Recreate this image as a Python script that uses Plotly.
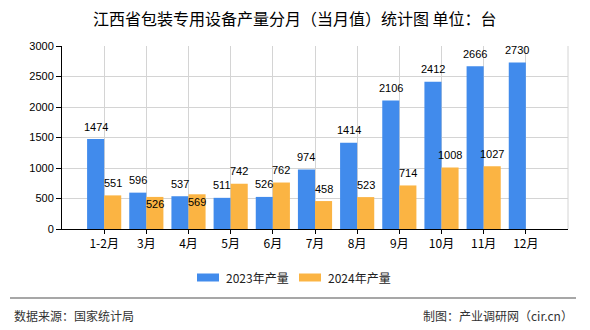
import plotly.graph_objects as go

categories = ["1-2月", "3月", "4月", "5月", "6月", "7月", "8月", "9月", "10月", "11月", "12月"]
values_2023 = [1474, 596, 537, 511, 526, 974, 1414, 2106, 2412, 2666, 2730]
values_2024 = [551, 526, 569, 742, 762, 458, 523, 714, 1008, 1027, None]
y_ticks = [0, 500, 1000, 1500, 2000, 2500, 3000]
series_names = ["2023年产量", "2024年产量"]
colors = ["#418bec", "#fbb443"]

W, H = 590, 330
L, R, T, B = 62, 568, 46, 229
pw, ph = R - L, B - T

def px(x):
    return (x - L) / pw

def py(y):
    return (B - y) / ph

font_main = "Noto Sans CJK SC, Liberation Sans, sans-serif"

# labels the reference pushes down into the bar (collision avoidance)
label_inside = {(1, "3月"), (1, "4月")}

fig = go.Figure()
for name, vals, col in zip(series_names, [values_2023, values_2024], colors):
    fig.add_trace(go.Bar(
        x=categories, y=vals, name=name, marker_color=col, marker_line_width=0,
        showlegend=False,
    ))

shapes = []
annotations = []
# value labels above bars
bar_px = pw / 12 * 0.81 / 2
for k, vals in enumerate([values_2023, values_2024]):
    shift = (-0.5 if k == 0 else 0.5) * bar_px
    for c, v in zip(categories, vals):
        if v is None:
            continue
        ys = -7.5 if (k, c) in label_inside else 12.5
        annotations.append(dict(text=str(v), x=c, y=v, xref="x", yref="y",
                                xshift=shift, yshift=ys, xanchor="center", yanchor="middle",
                                showarrow=False,
                                font=dict(size=11, color="#000000", family="Liberation Sans, Arial")))
# right border
shapes.append(dict(type="line", xref="paper", yref="paper", x0=1, x1=1, y0=0, y1=1,
                   line=dict(color="#d4d4d4", width=1)))
# custom legend
leg = [(197, 224), (299, 326)]
for (rx, tx), name, col in zip(leg, series_names, colors):
    shapes.append(dict(type="rect", xref="paper", yref="paper",
                       x0=px(rx), x1=px(rx + 22), y0=py(281.5), y1=py(273.5),
                       fillcolor=col, line=dict(width=0)))
    annotations.append(dict(text=name, xref="paper", yref="paper", x=px(tx), y=py(277.5),
                            xanchor="left", yanchor="middle", showarrow=False,
                            font=dict(size=12, color="#222222", family=font_main)))
# footer line
shapes.append(dict(type="line", xref="paper", yref="paper", x0=px(10), x1=px(576),
                   y0=py(298), y1=py(298), line=dict(color="#8a8a8a", width=1.5)))
annotations.append(dict(text="数据来源：国家统计局", xref="paper", yref="paper", x=px(12), y=py(315),
                        xanchor="left", yanchor="middle", showarrow=False,
                        font=dict(size=12, color="#333333", family=font_main)))
annotations.append(dict(text="制图：产业调研网（cir.cn）", xref="paper", yref="paper", x=px(575), y=py(315),
                        xanchor="right", yanchor="middle", showarrow=False,
                        font=dict(size=12, color="#333333", family=font_main)))
# title
annotations.append(dict(text="江西省包装专用设备产量分月（当月值）统计图 单位：台", xref="paper", yref="paper",
                        x=px(295), y=py(18), xanchor="center", yanchor="middle", showarrow=False,
                        font=dict(size=16, color="#000000", family=font_main)))

fig.update_layout(
    width=W, height=H,
    margin=dict(l=L, r=W - R, t=T, b=H - B, pad=0),
    paper_bgcolor="white", plot_bgcolor="white",
    barmode="group", bargap=0.19, bargroupgap=0,
    shapes=shapes, annotations=annotations,
    showlegend=False,
    xaxis=dict(type="category", range=[-1, 11], showgrid=True, gridcolor="#d4d4d4", gridwidth=1,
               showline=True, linecolor="#000000", linewidth=1,
               ticks="outside", ticklen=4, tickcolor="#000000",
               tickfont=dict(size=12, color="#000000", family=font_main), fixedrange=True),
    yaxis=dict(range=[0, 3000], tickvals=y_ticks, showgrid=True, gridcolor="#d4d4d4", gridwidth=1,
               showline=True, linecolor="#000000", linewidth=1, zeroline=False,
               ticks="outside", ticklen=5, tickcolor="#000000",
               tickfont=dict(size=11, color="#000000", family="Liberation Sans, Arial")),
)

fig.write_html("out.html")
